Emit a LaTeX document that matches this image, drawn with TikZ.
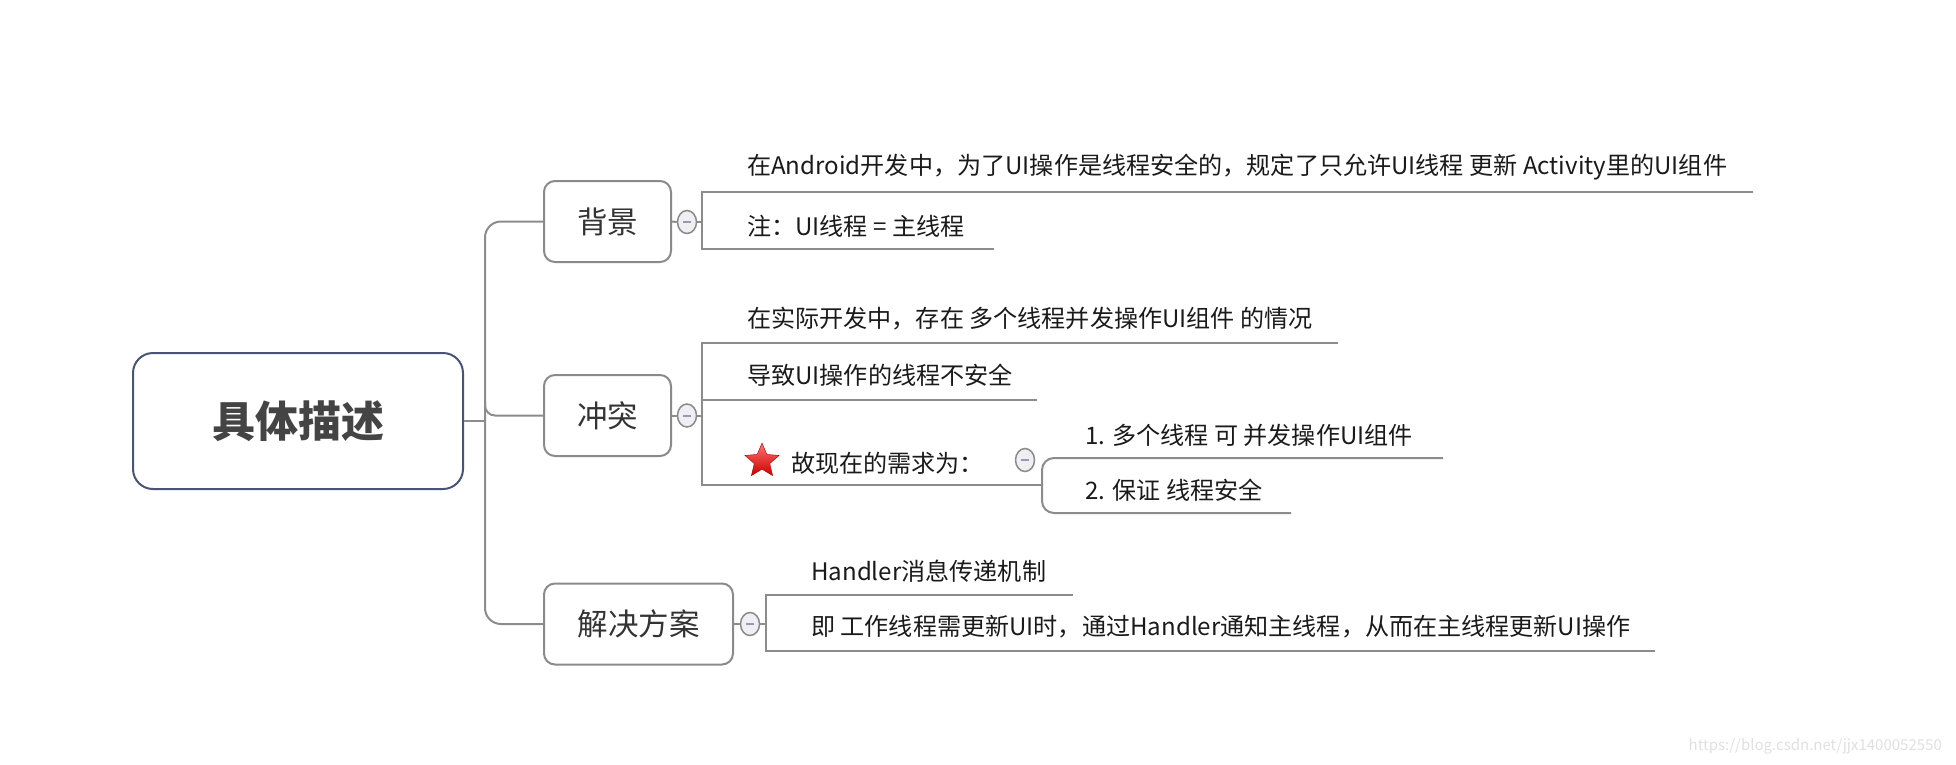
\documentclass[tikz,border=0pt]{standalone}
\usepackage{fontspec}
\setmainfont{Noto Sans CJK SC}
\usetikzlibrary{shapes.geometric}
\definecolor{linec}{HTML}{8C8C8C}
\definecolor{boxc}{HTML}{8A8A8A}
\definecolor{rootc}{HTML}{4A5478}
\definecolor{roottext}{HTML}{444444}
\definecolor{topictext}{HTML}{333333}
\definecolor{itemtext}{HTML}{1A1A1A}
\definecolor{collfill}{HTML}{EFEFF3}
\definecolor{collminus}{HTML}{9A98B0}
\tikzset{
  conn/.style={draw=linec, line width=2pt},
  rootbox/.style={draw=rootc, line width=2pt, rounded corners=20pt, minimum width=330pt, minimum height=136pt,
    text=roottext, font=\fontsize{43}{50}\selectfont\bfseries},
  topic/.style={draw=boxc, line width=2pt, rounded corners=11pt, minimum width=127pt, minimum height=81pt,
    text=topictext, font=\fontsize{30.5}{36}\selectfont},
  item/.style={anchor=west, inner sep=0pt, text=itemtext, font=\fontsize{24.1}{30}\selectfont},
  coll/.style={ellipse, draw=boxc, line width=1.5pt, fill=collfill, minimum width=19pt, minimum height=23pt, inner sep=0pt,
    path picture={\draw[collminus, line width=2pt] ([xshift=-4pt]path picture bounding box.center) -- ([xshift=4pt]path picture bounding box.center);}},
  starmark/.style={star, star points=5, star point ratio=2.2, minimum size=36pt, inner sep=0pt,
    top color=red!55!white, bottom color=red!80!black, draw=red!70!black, line width=0.4pt},
}
\begin{document}
\begin{tikzpicture}[x=1pt,y=-1pt]
\useasboundingbox (0,0) rectangle (1956,764);
% root and topics
\node[rootbox] (root) at (298,421) {具体描述};
\node[topic] (bg) at (607.5,221.5) {背景};
\node[topic] (ct) at (607.5,415.5) {冲突};
\node[topic, minimum width=189pt] (js) at (638.5,624) {解决方案};
% trunk
\coordinate (tr) at (485,421);
\draw[conn] (root.east) -- (tr);
\draw[conn, rounded corners=16pt] (bg.west) -| (tr) |- (js.west);
\draw[conn, rounded corners=10pt] ([yshift=20pt]tr) |- (ct.west);
% collapse markers
\node[coll] (cbg) at (687,222) {};
\node[coll] (cct) at (687,415.5) {};
\node[coll] (cjs) at (750,624) {};
\draw[conn] (bg.east) -- (cbg.west);
\draw[conn] (ct.east) -- (cct.west);
\draw[conn] (js.east) -- (cjs.west);
% ---- 背景 children
\coordinate (bgj) at (702,222);
\coordinate (bg1) at (1753,192);
\coordinate (bg2) at (994,249);
\draw[conn] (cbg.east) -- (bgj);
\draw[conn] (bg1) -| (bg2 -| bgj) -- (bg2);
\node[item] (bgt1) at (747,167) {在Android开发中，为了UI操作是线程安全的，规定了只允许UI线程 更新 Activity里的UI组件};
\node[item] (bgt2) at (747,226) {注：UI线程 = 主线程};
% ---- 冲突 children
\coordinate (ctj) at (702,415.5);
\coordinate (ct1) at (1338,343);
\coordinate (ct2) at (1037,400);
\coordinate (ct3) at (1042,485);
\draw[conn] (cct.east) -- (ctj);
\draw[conn] (ct1) -| (ct3 -| ctj) -- (ct3);
\draw[conn] (ct2 -| ctj) -- (ct2);
\node[item] (ctt1) at (747,319) {在实际开发中，存在 多个线程并发操作UI组件 的情况};
\node[item] (ctt2) at (747,375) {导致UI操作的线程不安全};
\node[starmark] (star) at (762,461) {};
\node[item] (ctt3) at (791,463) {故现在的需求为：};
\node[coll] (cneed) at (1025,460) {};
% sub bracket
\coordinate (sb1) at (1443,458);
\coordinate (sb2) at (1291,513);
\draw[conn, rounded corners=12pt] (sb1) -| (ct3) |- (sb2);
\node[item] (sbt1) at (1085,435) {1. 多个线程 可 并发操作UI组件};
\node[item] (sbt2) at (1085,490) {2. 保证 线程安全};
% ---- 解决方案 children
\coordinate (jsj) at (766,624);
\coordinate (js1) at (1073,595);
\coordinate (js2) at (1655,651);
\draw[conn] (cjs.east) -- (jsj);
\draw[conn] (js1) -| (js2 -| jsj) -- (js2);
\node[item] (jst1) at (811,571) {Handler消息传递机制};
\node[item] (jst2) at (811,627) {即 工作线程需更新UI时，通过Handler通知主线程，从而在主线程更新UI操作};
% watermark
\node[anchor=east, inner sep=0pt, text=black!12, font=\fontsize{15}{18}\selectfont] (wm) at (1942,746) {https://blog.csdn.net/jjx1400052550};
\end{tikzpicture}
\end{document}
